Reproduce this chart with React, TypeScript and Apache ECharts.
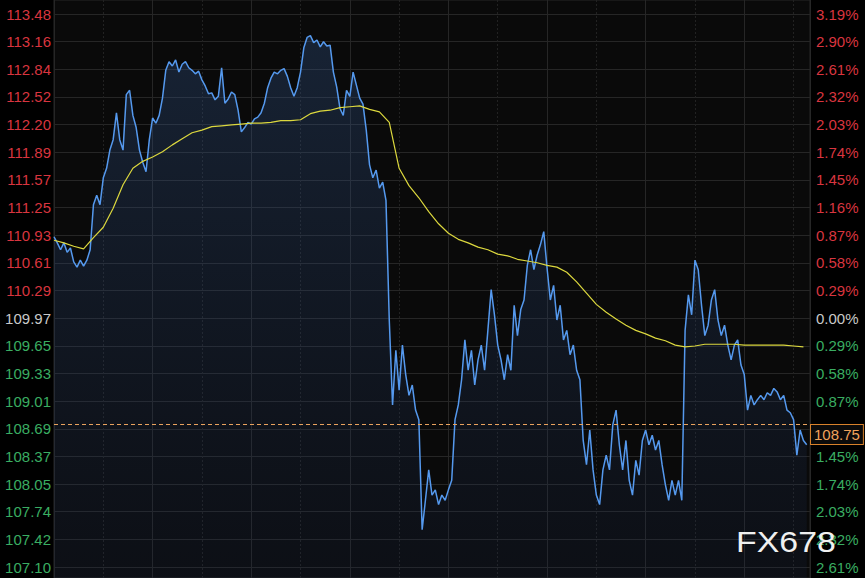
import React, { useEffect, useRef } from "react";
import * as echarts from "echarts";

// ---- tick labels (top to bottom) ----
const PRICE_TICKS = ["113.48","113.16","112.84","112.52","112.20","111.89","111.57","111.25","110.93","110.61","110.29","109.97","109.65","109.33","109.01","108.69","108.37","108.05","107.74","107.42","107.10"];
const PCT_TICKS = ["3.19%","2.90%","2.61%","2.32%","2.03%","1.74%","1.45%","1.16%","0.87%","0.58%","0.29%","0.00%","0.29%","0.58%","0.87%","1.16%","1.45%","1.74%","2.03%","2.32%","2.61%"];
const PREV_CLOSE_INDEX = 11;

// ---- time axis (minutes from session start) ----
const SESSION_MINUTES = 1380;
const MAJOR_GRID_MINUTES = 180;
const MINOR_GRID_TIMES = [90, 270, 450, 630, 810, 990, 1170, 1350];
const PRICE_STEP_MINUTES = 6;
const AVG_STEP_MINUTES = 18;

const LAST_PRICE = 108.75;

// ---- price series, one sample every 6 minutes ----
const PRICES = [
  110.91,110.84,110.76,110.84,110.73,110.78,110.62,110.56,110.64,110.57,
  110.64,110.76,111.28,111.39,111.28,111.59,111.70,111.91,112.03,112.34,
  112.03,111.91,112.55,112.60,112.31,112.17,111.91,111.77,111.66,112.03,
  112.28,112.22,112.31,112.51,112.83,112.93,112.88,112.95,112.81,112.90,
  112.93,112.86,112.83,112.79,112.82,112.72,112.65,112.56,112.57,112.49,
  112.53,112.86,112.45,112.50,112.58,112.55,112.37,112.12,112.17,112.23,
  112.21,112.27,112.29,112.34,112.45,112.63,112.74,112.81,112.79,112.83,
  112.85,112.76,112.63,112.53,112.63,112.81,113.09,113.21,113.23,113.15,
  113.18,113.10,113.16,113.11,113.12,112.81,112.64,112.39,112.31,112.60,
  112.53,112.81,112.66,112.51,112.44,112.14,111.74,111.59,111.68,111.47,
  111.54,111.33,109.95,108.97,109.60,109.14,109.66,109.32,109.08,109.20,
  108.91,108.80,107.53,107.87,108.22,107.93,107.99,107.82,107.93,107.87,
  107.99,108.10,108.80,108.97,109.26,109.72,109.37,109.60,109.20,109.49,
  109.66,109.37,109.83,110.30,110.01,109.66,109.49,109.26,109.55,109.37,
  110.12,109.77,110.07,110.18,110.58,110.76,110.53,110.70,110.82,110.97,
  110.55,110.18,110.35,109.95,110.12,109.72,109.83,109.55,109.66,109.37,
  109.26,108.56,108.28,108.68,108.22,107.93,107.82,108.22,108.39,108.22,
  108.74,108.91,108.51,108.22,108.56,108.10,107.93,108.33,108.16,108.56,
  108.68,108.51,108.62,108.45,108.56,108.28,108.05,107.87,108.10,107.93,
  108.10,107.87,109.83,110.24,110.01,110.64,110.53,110.12,109.77,109.89,
  110.18,110.30,109.95,109.77,109.89,109.66,109.49,109.66,109.72,109.43,
  109.32,108.91,109.08,108.97,109.03,109.08,109.03,109.11,109.08,109.16,
  109.12,109.03,109.08,108.91,108.88,108.80,108.39,108.68,108.56,108.51,
];

// ---- average price, one sample every 18 minutes ----
const AVG = [
  110.87,110.84,110.80,110.77,110.90,111.02,111.24,111.51,111.70,111.78,
  111.83,111.89,111.97,112.04,112.11,112.14,112.18,112.19,112.20,112.21,
  112.22,112.22,112.23,112.25,112.25,112.26,112.33,112.36,112.37,112.40,
  112.41,112.42,112.38,112.35,112.23,111.70,111.50,111.36,111.20,111.06,
  110.95,110.88,110.84,110.79,110.76,110.71,110.69,110.65,110.63,110.61,
  110.58,110.56,110.50,110.39,110.26,110.13,110.04,109.96,109.89,109.83,
  109.79,109.74,109.71,109.66,109.64,109.65,109.67,109.67,109.67,109.67,
  109.66,109.66,109.66,109.66,109.66,109.65,109.64,
];

// ---- layout ----
const W = 865;
const H = 578;
const PLOT_LEFT = 54;
const PLOT_RIGHT = 55;
const TICK_TOP = 14;
const TICK_BOTTOM = 11;

const UP = "#d8353f";
const FLAT = "#c9c9c9";
const DOWN = "#3aad62";
const GRID_LINE = "#262626";
const FONT = "'Liberation Sans', Arial, sans-serif";

export default function App() {
  const ref = useRef<HTMLDivElement>(null);

  useEffect(() => {
    document.body.style.margin = "0";
    document.body.style.background = "#000";
    if (!ref.current) return;
    const chart = echarts.init(ref.current, null, { renderer: "svg" });

    const top = Number(PRICE_TICKS[0]);
    const bottom = Number(PRICE_TICKS[PRICE_TICKS.length - 1]);
    const steps = PRICE_TICKS.length - 1;
    const step = (top - bottom) / steps;
    const pxPerStep = (H - TICK_TOP - TICK_BOTTOM) / steps;
    const yMax = top + (step * TICK_TOP) / pxPerStep;
    const yMin = bottom - (step * TICK_BOTTOM) / pxPerStep;

    const cls = (i: number) => (i < PREV_CLOSE_INDEX ? "up" : i === PREV_CLOSE_INDEX ? "flat" : "down");
    const rich = {
      up: { color: UP, fontSize: 15, fontFamily: FONT },
      flat: { color: FLAT, fontSize: 15, fontFamily: FONT },
      down: { color: DOWN, fontSize: 15, fontFamily: FONT },
    };

    const option: any = {
      animation: false,
      backgroundColor: "#000",
      grid: [
        { left: PLOT_LEFT, right: PLOT_RIGHT, top: 0, bottom: 0, show: true, backgroundColor: "#0a0a0a", borderColor: GRID_LINE, borderWidth: 1 },
        { left: PLOT_LEFT, right: PLOT_RIGHT, top: TICK_TOP, bottom: TICK_BOTTOM },
      ],
      xAxis: [
        {
          gridIndex: 0, type: "value", min: 0, max: SESSION_MINUTES, interval: MAJOR_GRID_MINUTES,
          axisLine: { show: false }, axisTick: { show: false }, axisLabel: { show: false },
          splitLine: { show: true, lineStyle: { color: GRID_LINE, width: 1 } },
        },
        { gridIndex: 1, type: "value", min: 0, max: 1, show: false },
      ],
      yAxis: [
        { gridIndex: 0, type: "value", min: yMin, max: yMax, show: false },
        {
          gridIndex: 1, type: "value", inverse: true, min: 0, max: steps, interval: 1, position: "left",
          axisLine: { show: false }, axisTick: { show: false },
          splitLine: { show: true, lineStyle: { color: GRID_LINE, width: 1 } },
          axisLabel: { margin: 3, fontSize: 15, fontFamily: FONT, formatter: (v: number) => `{${cls(v)}|${PRICE_TICKS[v]}}`, rich },
        },
        {
          gridIndex: 1, type: "value", inverse: true, min: 0, max: steps, interval: 1, position: "right",
          axisLine: { show: false }, axisTick: { show: false }, splitLine: { show: false },
          axisLabel: { margin: 6, fontSize: 15, fontFamily: FONT, formatter: (v: number) => `{${cls(v)}|${PCT_TICKS[v]}}`, rich },
        },
      ],
      series: [
        {
          type: "line",
          xAxisIndex: 0, yAxisIndex: 0,
          data: PRICES.map((p, i) => [i * PRICE_STEP_MINUTES, p]),
          showSymbol: false,
          lineStyle: { color: "#5599ee", width: 1.5 },
          areaStyle: {
            origin: "start",
            color: new echarts.graphic.LinearGradient(0, 0, 0, 1, [
              { offset: 0, color: "rgba(55,95,155,0.42)" },
              { offset: 1, color: "rgba(25,40,75,0.25)" },
            ]),
          },
          z: 3,
          markLine: {
            silent: true,
            symbol: "none",
            lineStyle: { color: "#e9a25e", type: [4, 3], width: 1 },
            label: {
              show: true,
              position: "end",
              distance: 1,
              formatter: (p: any) => `{gap| }\n{box|${Number(p.value).toFixed(2)}}`,
              rich: {
                gap: { lineHeight: 21, fontSize: 10 },
                box: {
                  color: "#f0a35c", fontSize: 15, fontFamily: FONT, lineHeight: 17,
                  backgroundColor: "#0b0b0b", borderColor: "#d9822b", borderWidth: 1, padding: [2, 3, 2, 3],
                },
              },
            },
            data: [{ yAxis: LAST_PRICE }],
          },
        },
        {
          type: "line",
          xAxisIndex: 0, yAxisIndex: 0,
          data: AVG.map((v, k) => [k * AVG_STEP_MINUTES, v]),
          showSymbol: false,
          lineStyle: { color: "#dcd83e", width: 1.2 },
          z: 4,
          markLine: {
            silent: true,
            symbol: "none",
            lineStyle: { color: "#222", type: [2, 2], width: 1 },
            label: { show: false },
            data: MINOR_GRID_TIMES.map((t) => ({ xAxis: t })),
            z: 1,
          },
        },
      ],
      graphic: [
        {
          type: "text",
          left: 736,
          top: 527,
          z: 100,
          scaleX: 1.13,
          style: { text: "FX678", fill: "#f0f0f0", font: `30px ${FONT}` },
        },
      ],
    };

    chart.setOption(option);
    return () => chart.dispose();
  }, []);

  return <div ref={ref} style={{ width: W, height: H }} />;
}
